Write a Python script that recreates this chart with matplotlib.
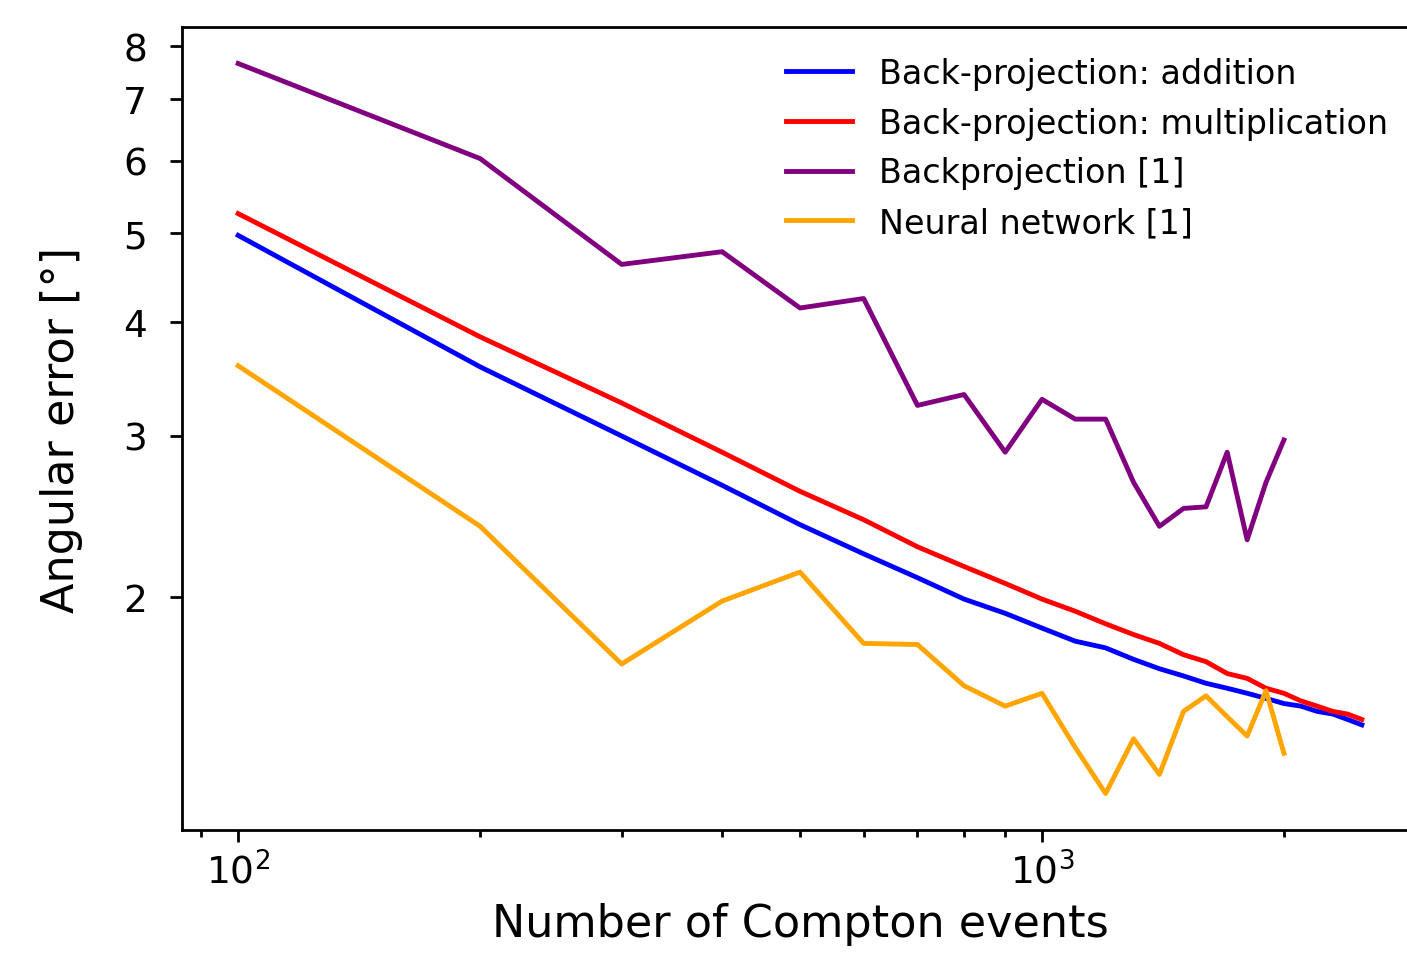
import matplotlib
matplotlib.use("Agg")
import matplotlib.pyplot as plt
from matplotlib.ticker import FixedLocator, FixedFormatter, NullLocator

x_long = [100, 200, 300, 400, 500, 600, 700, 800, 900, 1000, 1100, 1200, 1300,
          1400, 1500, 1600, 1700, 1800, 1900, 2000, 2100, 2200, 2300, 2400, 2500]
x_short = [100, 200, 300, 400, 500, 600, 700, 800, 900, 1000, 1100, 1200, 1300,
           1400, 1500, 1600, 1700, 1800, 1900, 2000]

bp_addition = [4.97, 3.57, 3.00, 2.65, 2.40, 2.23, 2.10, 1.99, 1.92, 1.85, 1.79,
               1.76, 1.71, 1.67, 1.64, 1.61, 1.59, 1.57, 1.55, 1.53, 1.52, 1.50,
               1.49, 1.47, 1.45]
bp_multiplication = [5.25, 3.85, 3.26, 2.88, 2.61, 2.43, 2.27, 2.16, 2.07, 1.99,
                     1.93, 1.87, 1.82, 1.78, 1.73, 1.70, 1.65, 1.63, 1.59, 1.57,
                     1.54, 1.52, 1.50, 1.49, 1.47]
backprojection_ref = [7.66, 6.03, 4.62, 4.77, 4.14, 4.24, 3.24, 3.33, 2.88, 3.29,
                      3.13, 3.13, 2.67, 2.39, 2.50, 2.51, 2.88, 2.31, 2.67, 2.97]
neural_network_ref = [3.58, 2.39, 1.69, 1.98, 2.13, 1.78, 1.775, 1.60, 1.52, 1.57,
                      1.37, 1.22, 1.40, 1.28, 1.50, 1.56, 1.48, 1.41, 1.58, 1.35]

labels = ["Back-projection: addition", "Back-projection: multiplication",
          "Backprojection [1]", "Neural network [1]"]
colors = ["blue", "red", "purple", "orange"]

y_ticks = [2, 3, 4, 5, 6, 7, 8]
y_ticklabels = ["2", "3", "4", "5", "6", "7", "8"]

fig = plt.figure(figsize=(7.035, 4.77), dpi=200)
ax = fig.add_axes([182 / 1407, 123 / 954, 1236 / 1407, 803 / 954])

lw = 1.75
ax.plot(x_long, bp_addition, color=colors[0], label=labels[0], lw=lw)
ax.plot(x_long, bp_multiplication, color=colors[1], label=labels[1], lw=lw)
ax.plot(x_short, backprojection_ref, color=colors[2], label=labels[2], lw=lw)
ax.plot(x_short, neural_network_ref, color=colors[3], label=labels[3], lw=lw)

ax.set_xscale("log")
ax.set_yscale("log")
ax.yaxis.set_major_locator(FixedLocator(y_ticks))
ax.yaxis.set_major_formatter(FixedFormatter(y_ticklabels))
ax.yaxis.set_minor_locator(NullLocator())

ax.tick_params(axis="both", which="major", labelsize=13.5, length=4.3, width=1.0)
ax.tick_params(axis="both", which="minor", length=2.4, width=1.0)
ax.tick_params(axis="y", which="major", pad=8.3)
for s in ax.spines.values():
    s.set_linewidth(1.0)

ax.set_xlabel("Number of Compton events", fontsize=16, labelpad=4)
ax.set_ylabel("Angular error [°]", fontsize=16, labelpad=14.5)
ax.legend(loc="upper right", frameon=False, fontsize=12)

fig.savefig("out.png", dpi=200)
